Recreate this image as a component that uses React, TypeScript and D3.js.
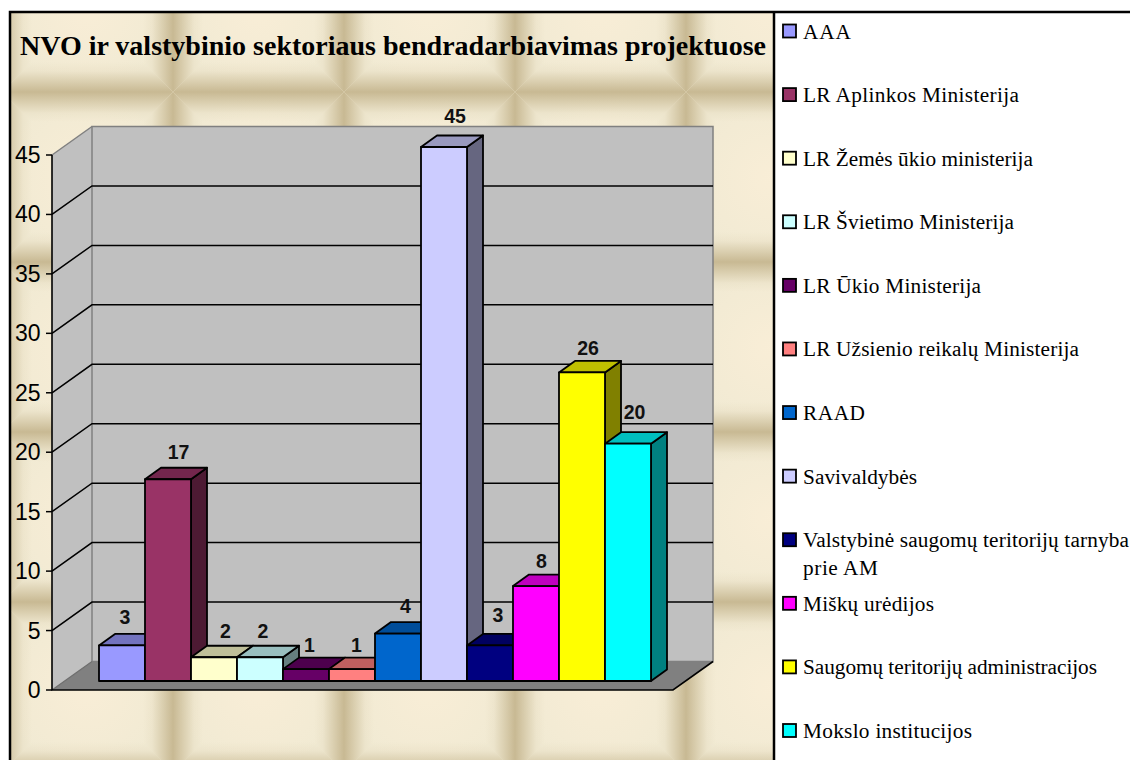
import React from "react";
import * as d3 from "d3";

const categories = ["AAA","LR Aplinkos Ministerija","LR Žemės ūkio ministerija","LR Švietimo Ministerija","LR Ūkio Ministerija","LR Užsienio reikalų Ministerija","RAAD","Savivaldybės","Valstybinė saugomų teritorijų tarnyba prie AM","Miškų urėdijos","Saugomų teritorijų administracijos","Mokslo institucijos"];
const values = [3,17,2,2,1,1,4,45,3,8,26,20];
const colors = ["#9999ff","#993366","#ffffcc","#ccffff","#660066","#ff8080","#0066cc","#ccccff","#000080","#ff00ff","#ffff00","#00ffff"];
const legendLines = [["AAA"],["LR Aplinkos Ministerija"],["LR Žemės ūkio ministerija"],["LR Švietimo Ministerija"],["LR Ūkio Ministerija"],["LR Užsienio reikalų Ministerija"],["RAAD"],["Savivaldybės"],["Valstybinė saugomų teritorijų tarnyba","prie AM"],["Miškų urėdijos"],["Saugomų teritorijų administracijos"],["Mokslo institucijos"]];
const legendWidths = [[48],[216],[230],[211],[178],[276],[62],[114],[326,75],[131],[294],[169]];
const labelDx = [3,10.5,11.5,3,3.5,4.5,7.5,11,8,5.5,6,6.5];
const labelGap = [21,20,19,19,17,17,21,24,23,18,17,25];
const ticks = [0,5,10,15,20,25,30,35,40,45];
const title = "NVO ir valstybinio sektoriaus bendradarbiavimas projektuose";

const W = 1130, H = 760;
const frameL = 10, frameT = 12, divider = 774;
const axisX = 52, axisR = 673, depthX = 40, depthY = -28.5;
const barDX = 16, barDY = -11.5;
const axisY = d3.scaleLinear().domain([0,45]).range([690,155]);
const barY = d3.scaleLinear().domain([0,45]).range([681,147]);
const barX = d3.scaleBand().domain(categories).range([99,651]);
const legendY = d3.scaleLinear().domain([0,11]).range([31,730.5]);

const shade = (c: string, k: number) => {
  const r = d3.rgb(c);
  return d3.rgb(r.r*k, r.g*k, r.b*k).formatHex();
};
const serif = "'Liberation Serif', serif";
const sans = "'Liberation Sans', sans-serif";
const TW = 171, TH = 170, B = 30, EDGE = "#c8b993";

function Tile() {
  return (
    <pattern id="tile" patternUnits="userSpaceOnUse" x={2} y={-78} width={TW} height={TH}>
      <rect width={TW} height={TH} fill="#f1ead3"/>
      <rect width={TW} height={TH} fill="url(#warm)"/>
      <polygon points={`0,0 ${B},${B} ${B},${TH-B} 0,${TH}`} fill="url(#gl)"/>
      <polygon points={`${TW},0 ${TW-B},${B} ${TW-B},${TH-B} ${TW},${TH}`} fill="url(#gr)"/>
      <polygon points={`0,0 ${B},${B} ${TW-B},${B} ${TW},0`} fill="url(#gt)"/>
      <polygon points={`0,${TH} ${B},${TH-B} ${TW-B},${TH-B} ${TW},${TH}`} fill="url(#gb)"/>
    </pattern>
  );
}
const Grad = ({id,x1,y1,x2,y2}:{id:string,x1:number,y1:number,x2:number,y2:number}) => (
  <linearGradient id={id} x1={x1} y1={y1} x2={x2} y2={y2}>
    <stop offset="0" stopColor={EDGE} stopOpacity={1}/>
    <stop offset="0.35" stopColor={EDGE} stopOpacity={0.55}/>
    <stop offset="0.7" stopColor={EDGE} stopOpacity={0.12}/>
    <stop offset="1" stopColor={EDGE} stopOpacity={0}/>
  </linearGradient>
);

export default function App() {
  const wallTop = axisY(45) + depthY, wallBot = axisY(0) + depthY;
  return (
    <svg width={W} height={H} style={{position:"absolute",left:0,top:0,background:"#fff"}}>
      <defs>
        <radialGradient id="warm" cx="0.5" cy="0.5" r="0.5">
          <stop offset="0" stopColor="#fcefd8" stopOpacity={0.7}/>
          <stop offset="1" stopColor="#fcefd8" stopOpacity={0}/>
        </radialGradient>
        <Grad id="gl" x1={0} y1={0} x2={1} y2={0}/>
        <Grad id="gr" x1={1} y1={0} x2={0} y2={0}/>
        <Grad id="gt" x1={0} y1={0} x2={0} y2={1}/>
        <Grad id="gb" x1={0} y1={1} x2={0} y2={0}/>
        <Tile/>
      </defs>
      <rect x={frameL} y={frameT} width={divider-frameL} height={H} fill="url(#tile)"/>
      <path d={`M${frameL},${H}V${frameT}H${W}M${divider},${frameT}V${H}`} fill="none" stroke="#000" strokeWidth={2.5}/>

      <text x={20} y={55} fontFamily={serif} fontWeight="bold" fontSize={28} textLength={746} lengthAdjust="spacing">{title}</text>

      {/* walls and floor */}
      <polygon points={`${axisX},${axisY(45)} ${axisX+depthX},${wallTop} ${axisX+depthX},${wallBot} ${axisX},${axisY(0)}`} fill="#c0c0c0"/>
      <rect x={axisX+depthX} y={wallTop} width={axisR-axisX} height={wallBot-wallTop} fill="#c0c0c0" stroke="#808080" strokeWidth={1.5}/>
      <polygon points={`${axisX},${axisY(0)} ${axisX+depthX},${wallBot} ${axisR+depthX},${wallBot} ${axisR},${axisY(0)}`} fill="#808080"/>
      <line x1={axisX} y1={axisY(45)} x2={axisX+depthX} y2={wallTop} stroke="#808080" strokeWidth={1.5}/>
      <line x1={axisX} y1={axisY(0)} x2={axisX+depthX} y2={wallBot} stroke="#6e6e6e" strokeWidth={1.2}/>

      {ticks.filter(t => t>0 && t<45).map(t => (
        <polyline key={t} points={`${axisX},${axisY(t)} ${axisX+depthX},${axisY(t)+depthY} ${axisR+depthX},${axisY(t)+depthY}`} fill="none" stroke="#000" strokeWidth={1.5}/>
      ))}
      <path d={`M${axisX},${axisY(45)}V${axisY(0)}H${axisR}L${axisR+depthX},${wallBot}`} fill="none" stroke="#000" strokeWidth={1.6}/>
      {ticks.map(t => (
        <g key={t}>
          <line x1={axisX-6} x2={axisX} y1={axisY(t)} y2={axisY(t)} stroke="#000" strokeWidth={1.5}/>
          <text x={40.5} y={axisY(t)+8} textAnchor="end" fontFamily={sans} fontSize={23} fill="#000">{t}</text>
        </g>
      ))}

      {/* bars */}
      {categories.map((c,i) => {
        const x0 = barX(c)!, x1 = x0 + barX.bandwidth(), y0 = barY(0), y1 = barY(values[i]);
        const col = colors[i];
        return (
          <g key={c} stroke="#000" strokeWidth={1.8} strokeLinejoin="round">
            <polygon points={`${x1},${y0} ${x1+barDX},${y0+barDY} ${x1+barDX},${y1+barDY} ${x1},${y1}`} fill={shade(col,0.5)}/>
            <polygon points={`${x0},${y1} ${x0+barDX},${y1+barDY} ${x1+barDX},${y1+barDY} ${x1},${y1}`} fill={shade(col,0.75)}/>
            <rect x={x0} y={y1} width={x1-x0} height={y0-y1} fill={col}/>
          </g>
        );
      })}
      {categories.map((c,i) => (
        <text key={c} x={barX(c)!+barX.bandwidth()/2+labelDx[i]} y={barY(values[i])-labelGap[i]} textAnchor="middle" fontFamily={sans} fontWeight="bold" fontSize={19.5} fill="#111">{values[i]}</text>
      ))}

      {/* legend */}
      {categories.map((c,i) => (
        <g key={c}>
          <rect x={783} y={legendY(i)-6.5} width={13} height={13} fill={colors[i]} stroke="#000" strokeWidth={1.8}/>
          {legendLines[i].map((ln,j) => (
            <text key={j} x={803} y={legendY(i)+7.5+j*27.5} fontFamily={serif} fontSize={21.3} fill="#000" textLength={legendWidths[i][j]} lengthAdjust="spacing">{ln}</text>
          ))}
        </g>
      ))}
    </svg>
  );
}
